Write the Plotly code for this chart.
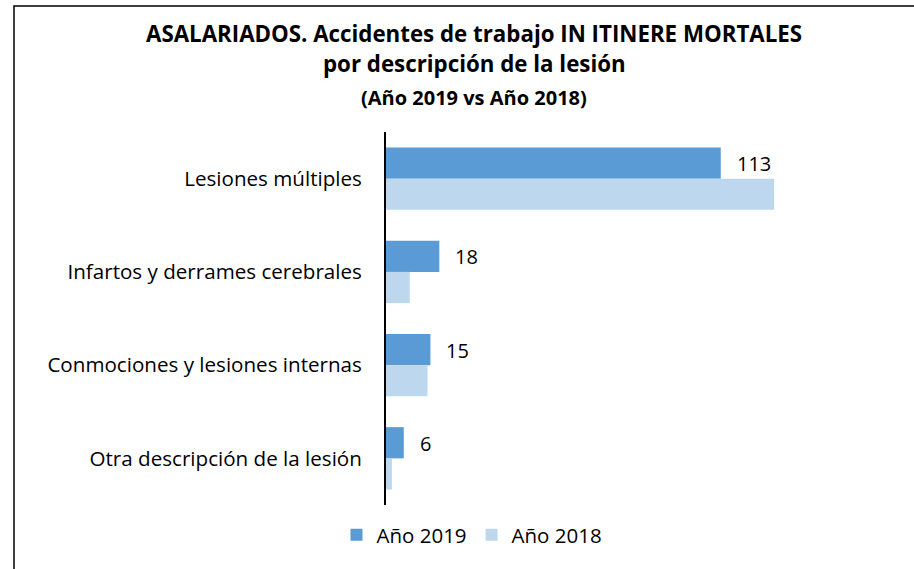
import plotly.graph_objects as go

# Data
categories = [
    "Lesiones múltiples",
    "Infartos y derrames cerebrales",
    "Conmociones y lesiones internas",
    "Otra descripción de la lesión",
]
values_2019 = [113, 18, 15, 6]
values_2018 = [131, 8, 14, 2]
series_names = ["Año 2019", "Año 2018"]
title_lines = [
    "ASALARIADOS. Accidentes de trabajo IN ITINERE MORTALES",
    "por descripción de la lesión",
    "(Año 2019 vs Año 2018)",
]

W, H = 914, 569
L, R, T, B = 386, 54, 132, 64
PW, PH = W - L - R, H - T - B
FONT = "Open Sans"
C2019, C2018 = "#5B9BD5", "#BDD7EE"


def px_x(x):
    return (x - L) / PW


def px_y(y):
    return 1 - (y - T) / PH


fig = go.Figure()
fig.add_trace(go.Bar(y=categories, x=values_2019, name=series_names[0],
                     orientation="h", marker=dict(color=C2019, line_width=0)))
fig.add_trace(go.Bar(y=categories, x=values_2018, name=series_names[1],
                     orientation="h", marker=dict(color=C2018, line_width=0)))

annotations = []
# value labels next to the 2019 bars
for cat, v in zip(categories, values_2019):
    annotations.append(dict(x=v, y=cat, text=str(v), showarrow=False,
                            xanchor="left", xshift=14, yshift=15,
                            font=dict(family=FONT, size=20, color="#000")))

# title lines
for text, ypx, size in zip(title_lines, [33, 64, 98], [22.3, 22.3, 20]):
    annotations.append(dict(x=px_x(474), y=px_y(ypx), xref="paper", yref="paper",
                            text="<b>%s</b>" % text, showarrow=False,
                            xanchor="center", yanchor="middle",
                            font=dict(family=FONT, size=size, color="#000")))

fig.update_layout(
    width=W, height=H,
    margin=dict(l=L, r=R, t=T, b=B, pad=0),
    paper_bgcolor="white", plot_bgcolor="white",
    barmode="group", bargap=0.33, bargroupgap=0,
    showlegend=True,
    legend=dict(orientation="h", x=px_x(472), y=px_y(535), xanchor="center",
                yanchor="middle", font=dict(family=FONT, size=20.5, color="#000"),
                itemwidth=30, traceorder="normal"),
    xaxis=dict(range=[0, 160], showticklabels=False, showgrid=False,
               zeroline=False, showline=False, fixedrange=True),
    yaxis=dict(autorange="reversed", showline=True, linecolor="#000",
               linewidth=2, ticks="", ticklabelstandoff=18,
               tickfont=dict(family=FONT, size=20.6, color="#000")),
    annotations=annotations,
    shapes=[dict(type="rect", xref="paper", yref="paper",
                 x0=px_x(14), x1=px_x(930), y0=px_y(580), y1=px_y(6),
                 line=dict(color="#000", width=1.5), fillcolor="rgba(0,0,0,0)",
                 layer="below")],
)

fig.write_html("out.html")
